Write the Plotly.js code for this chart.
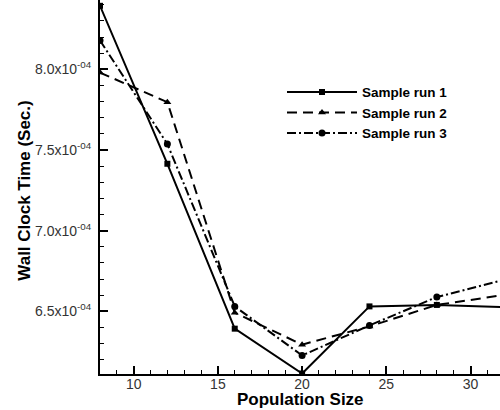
<!DOCTYPE html>
<html>
<head>
<meta charset="utf-8">
<script src="https://cdn.plot.ly/plotly-3.0.1.min.js"></script>
<style>
html,body{margin:0;padding:0;background:#fff;}
#chart{width:500px;height:410px;}
</style>
</head>
<body>
<div id="chart"></div>
<script>
// Data
var populationSize = [8, 12, 16, 20, 24, 28, 32];
var run1 = [8.394e-4, 7.415e-4, 6.393e-4, 6.115e-4, 6.531e-4, 6.540e-4, 6.527e-4];
var run2 = [7.980e-4, 7.797e-4, 6.492e-4, 6.294e-4, 6.407e-4, 6.540e-4, 6.602e-4];
var run3 = [8.179e-4, 7.537e-4, 6.531e-4, 6.227e-4, 6.413e-4, 6.589e-4, 6.696e-4];
var seriesNames = ["Sample run 1", "Sample run 2", "Sample run 3"];
var yTickVals = [6.5e-4, 7.0e-4, 7.5e-4, 8.0e-4];
var yTickText = ["6.5x10<sup>-04</sup>", "7.0x10<sup>-04</sup>", "7.5x10<sup>-04</sup>", "8.0x10<sup>-04</sup>"];

var FONT = "Liberation Sans, Arial, sans-serif";

var traces = [
  {x: populationSize, y: run1, name: seriesNames[0], mode: "lines+markers",
   line: {color: "#000", width: 2, dash: "solid"},
   marker: {symbol: "square", size: 6, color: "#000"}},
  {x: populationSize, y: run2, name: seriesNames[1], mode: "lines+markers",
   line: {color: "#000", width: 2, dash: "10px,6px"},
   marker: {symbol: "triangle-up", size: 7, color: "#000"}},
  {x: populationSize, y: run3, name: seriesNames[2], mode: "lines+markers",
   line: {color: "#000", width: 2, dash: "9px,3px,2px,3px"},
   marker: {symbol: "circle", size: 7, color: "#000"}}
];

var layout = {
  width: 500, height: 410,
  margin: {l: 100, r: 0, t: 0, b: 36},
  paper_bgcolor: "#fff", plot_bgcolor: "#fff",
  showlegend: true,
  legend: {x: 0.455, y: 0.795, xanchor: "left", yanchor: "top",
           font: {family: FONT, size: 13.5, color: "#000", weight: "bold"},
           bgcolor: "rgba(0,0,0,0)", itemwidth: 70, tracegroupgap: 0},
  xaxis: {
    range: [8, 31.75], showgrid: false, zeroline: false,
    showline: true, linecolor: "#000", linewidth: 2,
    tickmode: "linear", tick0: 0, dtick: 5,
    ticks: "inside", ticklen: 8, tickwidth: 2, tickcolor: "#000",
    minor: {tickmode: "linear", tick0: 0, dtick: 1, ticks: "inside", ticklen: 4, tickwidth: 1, tickcolor: "#000"},
    tickfont: {family: FONT, size: 14, color: "#333"},
    ticklabelstandoff: -4
  },
  yaxis: {
    range: [6.112e-4, 8.43e-4], showgrid: false, zeroline: false,
    showline: true, linecolor: "#000", linewidth: 2,
    tickmode: "array", tickvals: yTickVals, ticktext: yTickText,
    ticks: "inside", ticklen: 8, tickwidth: 2, tickcolor: "#000",
    minor: {tickmode: "linear", tick0: 0, dtick: 1e-5, ticks: "inside", ticklen: 4, tickwidth: 1, tickcolor: "#000"},
    tickfont: {family: FONT, size: 14, color: "#333"},
    ticklabelstandoff: 4
  },
  annotations: [
    {text: "Population Size", xref: "paper", yref: "paper", x: 0.5, y: -0.068,
     xanchor: "center", yanchor: "middle", showarrow: false,
     font: {family: FONT, size: 17, color: "#000", weight: "bold"}},
    {text: "Wall Clock Time (Sec.)", xref: "paper", yref: "paper", x: -0.1875, y: 0.49,
     xanchor: "center", yanchor: "middle", textangle: -90, showarrow: false,
     font: {family: FONT, size: 17, color: "#000", weight: "bold"}}
  ]
};

Plotly.newPlot("chart", traces, layout, {displayModeBar: false, staticPlot: true});
</script>
</body>
</html>
